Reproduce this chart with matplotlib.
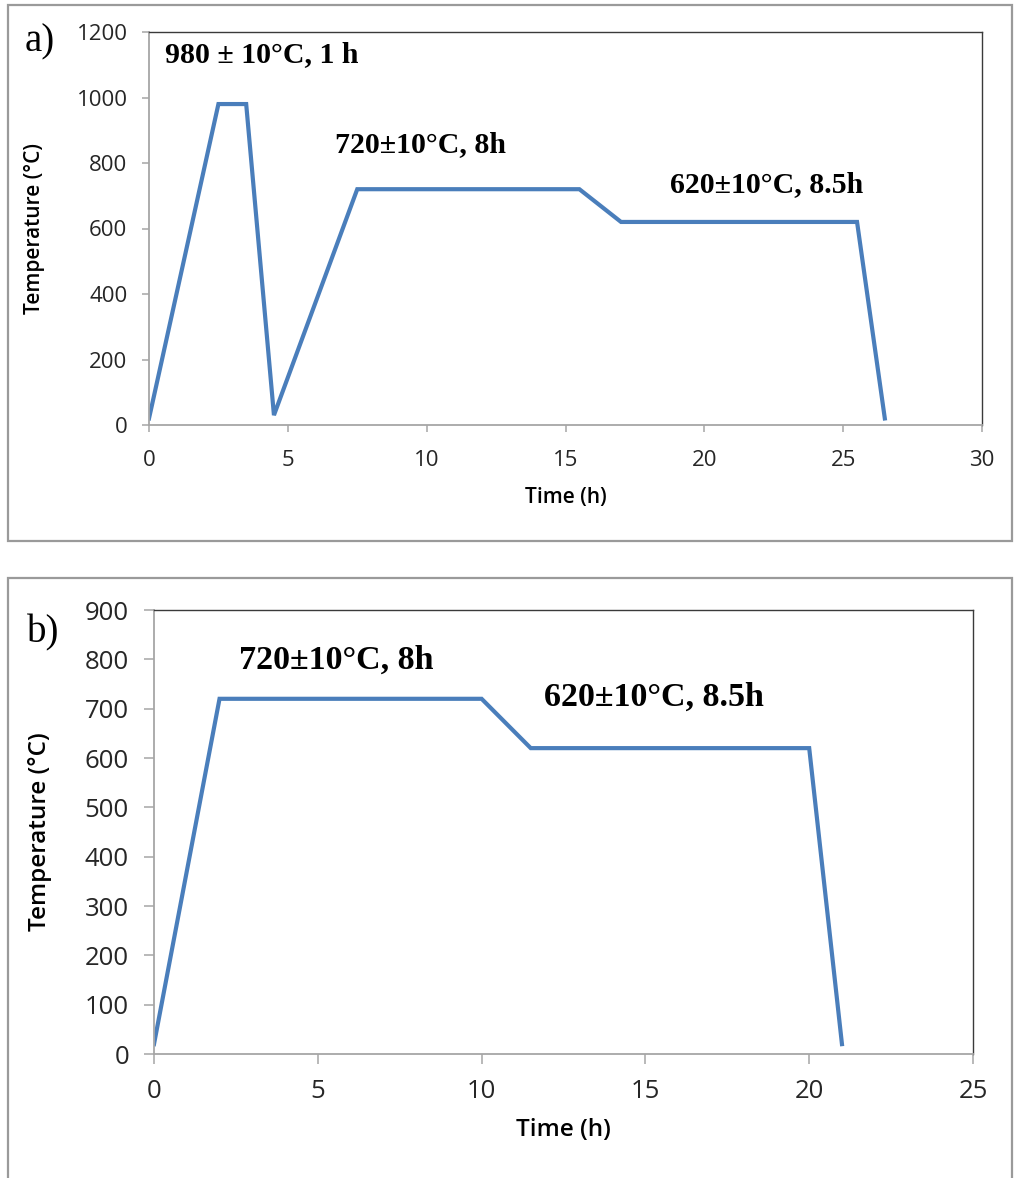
import matplotlib.pyplot as plt
from matplotlib.patches import Rectangle

# panel a: full cycle (normalising + two-step temper)
time_a = [0, 2.5, 3.5, 4.5, 7.5, 15.5, 17, 25.5, 26.5]
temp_a = [20, 980, 980, 30, 720, 720, 620, 620, 20]

# panel b: temper only
time_b = [0, 2, 10, 11.5, 20, 21]
temp_b = [20, 720, 720, 620, 620, 20]

notes_a = ["980 \u00b1 10\u00b0C, 1 h", "720\u00b110\u00b0C, 8h", "620\u00b110\u00b0C, 8.5h"]
notes_a_xy = [(0.58, 1130), (6.7, 855), (18.75, 733)]
notes_b = ["720\u00b110\u00b0C, 8h", "620\u00b110\u00b0C, 8.5h"]
notes_b_xy = [(2.6, 799), (11.9, 724)]

W, H = 1014, 1178
LINE = '#4a7ebb'
GRID_GRAY = '#a6a6a6'
SANS = 'Open Sans'


def px_axes(fig, left, top, right, bottom):
    return fig.add_axes([left / W, (H - bottom) / H, (right - left) / W, (bottom - top) / H])


def style_axes(ax, tick_size, tick_len, pad):
    for side in ['left', 'bottom']:
        ax.spines[side].set_color(GRID_GRAY)
        ax.spines[side].set_linewidth(1.3)
    for side in ['top', 'right']:
        ax.spines[side].set_color('#3a3a3a')
        ax.spines[side].set_linewidth(1.0)
    ax.tick_params(direction='out', length=tick_len, width=1.1, color=GRID_GRAY,
                   labelsize=tick_size, labelcolor='#262626', pad=pad)
    for lab in ax.get_xticklabels() + ax.get_yticklabels():
        lab.set_family(SANS)


fig = plt.figure(figsize=(W / 100, H / 100), dpi=100)

# outer chart frames
fig.patches.append(Rectangle((8 / W, (H - 541) / H), 1004 / W, 536 / H, transform=fig.transFigure,
                             fill=False, edgecolor='#9a9a9a', linewidth=1.6))
fig.patches.append(Rectangle((8 / W, -0.01), 1004 / W, (H - 578) / H + 0.01, transform=fig.transFigure,
                             fill=False, edgecolor='#9a9a9a', linewidth=1.6))

# ---- panel a ----
ax1 = px_axes(fig, 149, 32, 982, 425)
ax1.plot(time_a, temp_a, color=LINE, linewidth=3, solid_joinstyle='miter')
ax1.set_xlim(0, 30)
ax1.set_ylim(0, 1200)
ax1.set_xticks(range(0, 31, 5))
ax1.set_yticks(range(0, 1201, 200))
style_axes(ax1, 16, 5, 10.5)
ax1.tick_params(axis='x', pad=13)
ax1.set_xlabel('Time (h)', fontfamily=SANS, fontweight='semibold', fontsize=15)
ax1.xaxis.set_label_coords(0.5, -0.157)
ax1.set_ylabel('Temperature (\u00b0C)', fontfamily=SANS, fontweight='semibold', fontsize=15)
ax1.yaxis.set_label_coords(-0.125, 0.5)
for txt, (x, y) in zip(notes_a, notes_a_xy):
    ax1.text(x, y, txt, fontfamily='Liberation Serif', fontweight='bold', fontsize=21.5,
             ha='left', va='center')
fig.text(25 / W, (H - 42) / H, 'a)', fontfamily='Liberation Serif', fontsize=28, va='center')

# ---- panel b ----
ax2 = px_axes(fig, 154, 610, 973, 1054)
ax2.plot(time_b, temp_b, color=LINE, linewidth=3, solid_joinstyle='miter')
ax2.set_xlim(0, 25)
ax2.set_ylim(0, 900)
ax2.set_xticks(range(0, 26, 5))
ax2.set_yticks(range(0, 901, 100))
style_axes(ax2, 18.5, 7, 11)
ax2.set_xlabel('Time (h)', fontfamily=SANS, fontweight='semibold', fontsize=17.5)
ax2.xaxis.set_label_coords(0.5, -0.144)
ax2.set_ylabel('Temperature (\u00b0C)', fontfamily=SANS, fontweight='semibold', fontsize=17.5)
ax2.yaxis.set_label_coords(-0.1245, 0.5)
for txt, (x, y) in zip(notes_b, notes_b_xy):
    ax2.text(x, y, txt, fontfamily='Liberation Serif', fontweight='bold', fontsize=24.5,
             ha='left', va='center')
fig.text(27 / W, (H - 633) / H, 'b)', fontfamily='Liberation Serif', fontsize=28, va='center')

fig.savefig('out.png', dpi=100)
